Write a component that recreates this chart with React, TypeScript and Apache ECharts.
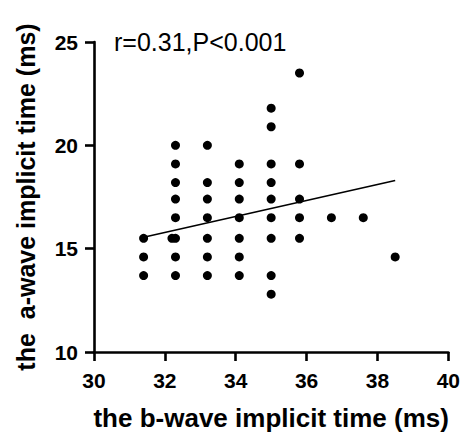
import React, { useEffect, useRef } from "react";
import * as echarts from "echarts";

// b-wave implicit time (ms), x values
const bWave = [
  31.4, 31.4, 31.4,
  32.2,
  32.3, 32.3, 32.3, 32.3, 32.3, 32.3, 32.3, 32.3,
  33.2, 33.2, 33.2, 33.2, 33.2, 33.2, 33.2,
  34.1, 34.1, 34.1, 34.1, 34.1, 34.1, 34.1,
  35.0, 35.0, 35.0, 35.0, 35.0, 35.0, 35.0, 35.0, 35.0,
  35.8, 35.8, 35.8, 35.8, 35.8,
  36.7,
  37.6,
  38.5,
];
// a-wave implicit time (ms), y values
const aWave = [
  15.5, 14.6, 13.7,
  15.5,
  20.0, 19.1, 18.2, 17.4, 16.5, 15.5, 14.6, 13.7,
  20.0, 18.2, 17.4, 16.5, 15.5, 14.6, 13.7,
  19.1, 18.2, 17.4, 16.5, 15.5, 14.6, 13.7,
  21.8, 20.9, 19.1, 18.2, 17.4, 16.5, 15.5, 13.7, 12.8,
  23.5, 19.1, 17.4, 16.5, 15.5,
  16.5,
  16.5,
  14.6,
];
// regression line end points
const fitX = [31.4, 38.5];
const fitY = [15.55, 18.3];

const xTicks = [30, 32, 34, 36, 38, 40];
const yTicks = [10, 15, 20, 25];
const annotation = "r=0.31,P<0.001";
const xTitle = "the b-wave implicit time (ms)";
const yTitle = "the  a-wave implicit time (ms)";

const FONT = "'Liberation Sans', Arial, Helvetica, sans-serif";

export default function App() {
  const ref = useRef<HTMLDivElement>(null);
  useEffect(() => {
    document.body.style.margin = "0";
    if (!ref.current) return;
    const chart = echarts.init(ref.current, undefined, { renderer: "svg" });
    const axisLine = { show: true, lineStyle: { color: "#000", width: 2.6 } };
    const axisTick = { show: true, length: 9, lineStyle: { color: "#000", width: 2.6 } };
    const axisLabel = {
      color: "#000",
      fontFamily: FONT,
      fontWeight: "bold" as const,
      fontSize: 21,
    };
    const nameStyle = {
      color: "#000",
      fontFamily: FONT,
      fontWeight: "bold" as const,
      fontSize: 25,
    };
    chart.setOption({
      animation: false,
      backgroundColor: "#fff",
      grid: { left: 94, right: 14, top: 42, bottom: 84 },
      xAxis: {
        type: "value",
        min: xTicks[0],
        max: xTicks[xTicks.length - 1],
        interval: 2,
        axisLine,
        axisTick,
        splitLine: { show: false },
        axisLabel: { ...axisLabel, margin: 18 },
        name: xTitle,
        nameLocation: "middle",
        nameGap: 53,
        nameTextStyle: { ...nameStyle, fontSize: 26 },
      },
      yAxis: {
        type: "value",
        min: yTicks[0],
        max: yTicks[yTicks.length - 1],
        interval: 5,
        axisLine,
        axisTick,
        splitLine: { show: false },
        axisLabel: { ...axisLabel, margin: 16 },
        name: yTitle,
        nameLocation: "middle",
        nameGap: 56,
        nameTextStyle: nameStyle,
      },
      series: [
        {
          type: "scatter",
          symbol: "circle",
          symbolSize: 9,
          itemStyle: { color: "#000", opacity: 1 },
          data: bWave.map((x, i) => [x, aWave[i]]),
          z: 3,
        },
        {
          type: "line",
          showSymbol: false,
          symbol: "none",
          lineStyle: { color: "#000", width: 1.6 },
          data: fitX.map((x, i) => [x, fitY[i]]),
          z: 2,
        },
      ],
      graphic: [
        {
          type: "text",
          left: 114,
          top: 29,
          style: {
            text: annotation,
            fill: "#000",
            font: `25px ${FONT}`,
          },
        },
      ],
    });
    return () => chart.dispose();
  }, []);
  return <div ref={ref} style={{ width: 463, height: 436 }} />;
}
